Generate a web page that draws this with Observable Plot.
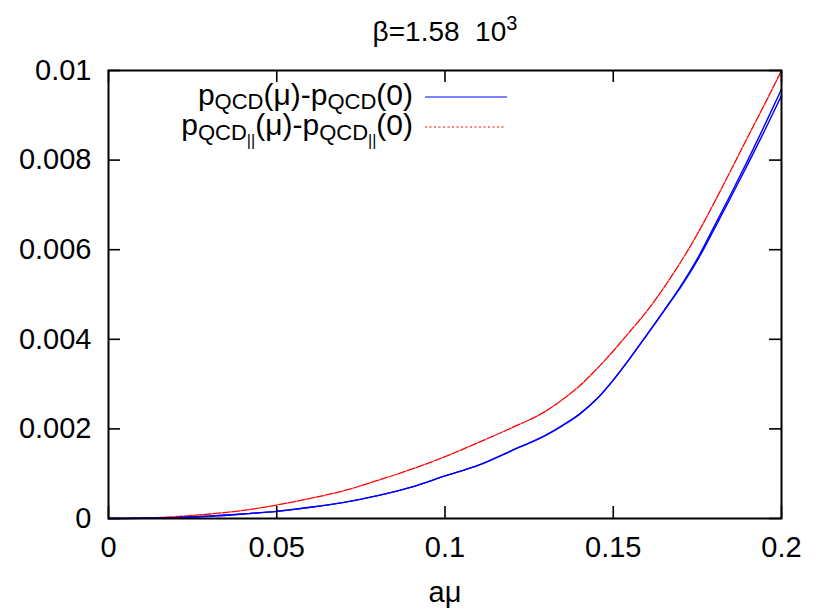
<!DOCTYPE html>
<html><head><meta charset="utf-8">
<script src="https://cdn.jsdelivr.net/npm/d3@7"></script>
<script src="https://cdn.jsdelivr.net/npm/@observablehq/plot@0.6"></script>
<style>body{margin:0;background:#fff}</style>
</head><body><div id="chart"></div>
<script>
// a*mu values
const mu = [0, 0.01, 0.02, 0.03, 0.04, 0.05, 0.06, 0.07, 0.08, 0.09, 0.1, 0.11, 0.12, 0.13, 0.135, 0.14, 0.145, 0.15, 0.155, 0.16, 0.165, 0.17, 0.175, 0.18, 0.185, 0.19, 0.195, 0.2];
// p_QCD(mu)-p_QCD(0): upper and lower edge of the blue band
const pQCDup = [0, 0.000005, 0.00002, 0.00005, 0.0001, 0.00016, 0.00025, 0.00036, 0.00051, 0.0007, 0.00095, 0.00119, 0.00152, 0.00186, 0.00208, 0.00233, 0.00266, 0.00309, 0.00358, 0.0041, 0.00463, 0.00518, 0.0058, 0.00652, 0.00725, 0.008, 0.00878, 0.00958];
const pQCDlo = [0, 0.000005, 0.00002, 0.00005, 0.0001, 0.00016, 0.00025, 0.00036, 0.00051, 0.0007, 0.00095, 0.00119, 0.00152, 0.00186, 0.00208, 0.00233, 0.00266, 0.00309, 0.00358, 0.0041, 0.00463, 0.00516, 0.00576, 0.00646, 0.00718, 0.00791, 0.00866, 0.00944];
// p_QCD||(mu)-p_QCD||(0)
const pQCDpar = [0, 0.00001, 0.00004, 0.0001, 0.00018, 0.0003, 0.00045, 0.00062, 0.00085, 0.0011, 0.00138, 0.0017, 0.00203, 0.0024, 0.00266, 0.00296, 0.00333, 0.00374, 0.00418, 0.00463, 0.00515, 0.00572, 0.00635, 0.00705, 0.00778, 0.00852, 0.00925, 0.01];
const xTicks = [0, 0.05, 0.1, 0.15, 0.2];
const xTickLabels = ["0", "0.05", "0.1", "0.15", "0.2"];
const yTicks = [0, 0.002, 0.004, 0.006, 0.008, 0.01];
const yTickLabels = ["0", "0.002", "0.004", "0.006", "0.008", "0.01"];

const rows = mu.map((m, i) => ({m, up: pQCDup[i], lo: pQCDlo[i], par: pQCDpar[i]}));
const font = "'Liberation Sans', Arial, Helvetica, sans-serif";

const W = 819, H = 610, ML = 108, MR = 38, MT = 70, MB = 92, TICK = 12;
const fw = W - ML - MR, fh = H - MT - MB;

const plot = Plot.plot({
  width: W, height: H,
  marginLeft: ML, marginRight: MR, marginTop: MT, marginBottom: MB,
  x: {domain: [0, 0.2]},
  y: {domain: [0, 0.01]},
  style: {fontFamily: font, fontSize: "29px", color: "black", background: "white"},
  marks: [
    Plot.line(rows, {x: "m", y: "par", stroke: "#ff0000", strokeWidth: 1.3, strokeDasharray: "8,1.5", curve: "monotone-x"}),
    Plot.line(rows, {x: "m", y: "up", stroke: "#0000ff", strokeWidth: 1.4, curve: "monotone-x"}),
    Plot.line(rows, {x: "m", y: "lo", stroke: "#0000ff", strokeWidth: 1.4, curve: "monotone-x"}),
    Plot.axisX({anchor: "bottom", ticks: xTicks, tickSize: 0, tickPadding: 18, tickFormat: (d, i) => xTickLabels[i], label: null}),
    Plot.axisY({anchor: "left", ticks: yTicks, tickSize: 0, tickPadding: 17, tickFormat: (d, i) => yTickLabels[i], label: null}),
    // inward mirrored ticks
    Plot.ruleX(xTicks, {x: d => d, insetTop: fh - TICK, stroke: "black", strokeWidth: 1.6}),
    Plot.ruleX(xTicks, {x: d => d, insetBottom: fh - TICK, stroke: "black", strokeWidth: 1.6}),
    Plot.ruleY(yTicks, {y: d => d, insetRight: fw - TICK, stroke: "black", strokeWidth: 1.6}),
    Plot.ruleY(yTicks, {y: d => d, insetLeft: fw - TICK, stroke: "black", strokeWidth: 1.6}),
    Plot.frame({stroke: "black", strokeWidth: 2})
  ]
});

const svg = d3.select(plot);
// title
const t = svg.append("text").attr("x", 445).attr("y", 41).attr("text-anchor", "middle")
  .attr("font-size", 28).attr("fill", "black");
t.append("tspan").text("β=1.58  10");
t.append("tspan").attr("dy", -11).attr("font-size", 20).text("3");
// x label
svg.append("text").attr("x", 445).attr("y", 602).attr("text-anchor", "middle")
  .attr("font-size", 29).attr("fill", "black").text("aμ");

// legend
const L = svg.append("g").attr("fill", "black");
const l1 = L.append("text").attr("x", 413).attr("y", 105).attr("text-anchor", "end").attr("font-size", 30);
l1.append("tspan").text("p");
l1.append("tspan").attr("dy", 4).attr("font-size", 22).text("QCD");
l1.append("tspan").attr("dy", -4).text("(μ)-p");
l1.append("tspan").attr("dy", 4).attr("font-size", 22).text("QCD");
l1.append("tspan").attr("dy", -4).text("(0)");
const l2 = L.append("text").attr("x", 413).attr("y", 135).attr("text-anchor", "end").attr("font-size", 30);
l2.append("tspan").text("p");
l2.append("tspan").attr("dy", 5).attr("font-size", 22).text("QCD");
l2.append("tspan").attr("dy", 6).attr("font-size", 16).text("||");
l2.append("tspan").attr("dy", -11).text("(μ)-p");
l2.append("tspan").attr("dy", 5).attr("font-size", 22).text("QCD");
l2.append("tspan").attr("dy", 6).attr("font-size", 16).text("||");
l2.append("tspan").attr("dy", -11).text("(0)");
L.append("line").attr("x1", 425).attr("x2", 507).attr("y1", 97).attr("y2", 97)
  .attr("stroke", "#0000ff").attr("stroke-width", 1.2);
L.append("line").attr("x1", 425).attr("x2", 505).attr("y1", 127).attr("y2", 127)
  .attr("stroke", "#ff0000").attr("stroke-width", 1.2).attr("stroke-dasharray", "2,2.5");

document.getElementById("chart").appendChild(plot);
</script>
</body></html>
